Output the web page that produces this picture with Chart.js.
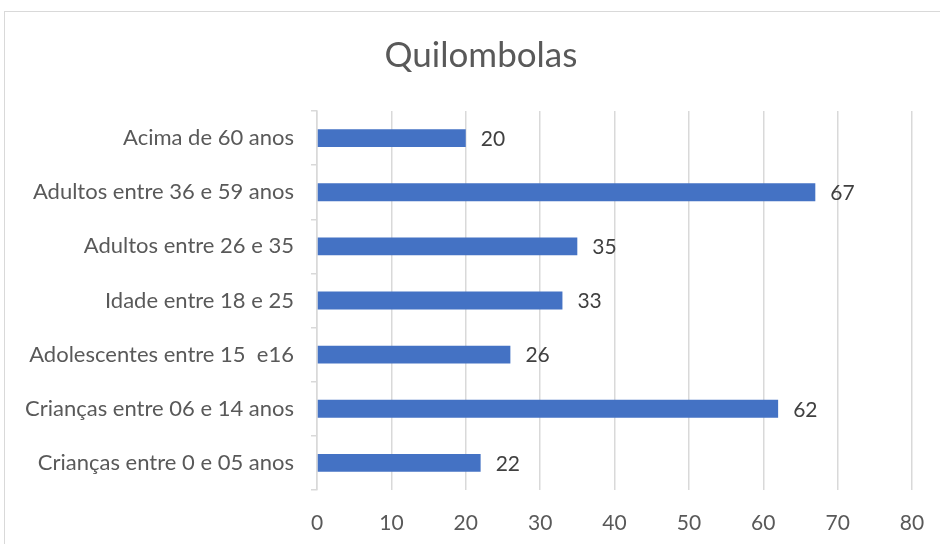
<!DOCTYPE html>
<html>
<head>
<meta charset="utf-8">
<script src="https://cdn.jsdelivr.net/npm/chart.js@4"></script>
<style>
  html, body { margin: 0; padding: 0; background: #ffffff; overflow: hidden; width: 940px; height: 544px; }
  #box { position: absolute; left: 4px; top: 11px; width: 952px; height: 560px; border: 1px solid #d9d9d9; box-sizing: border-box; }
  #quilombolasChart { position: absolute; left: 0; top: 0; }
</style>
</head>
<body>
<div id="box"><canvas id="quilombolasChart" width="952" height="560"></canvas></div>
<script>
const chartTitle = "Quilombolas";
const faixas = [
  "Acima de 60 anos",
  "Adultos entre 36 e 59 anos",
  "Adultos entre 26 e 35",
  "Idade entre 18 e 25",
  "Adolescentes entre 15  e16",
  "Crianças entre 06 e 14 anos",
  "Crianças entre 0 e 05 anos"
];
const quantidades = [20, 67, 35, 33, 26, 62, 22];
const xTicks = [0, 10, 20, 30, 40, 50, 60, 70, 80];

const fontFamily = "Lato, 'Open Sans', sans-serif";

// title centred on the whole chart box (the plot is shifted right)
const boxTitle = {
  id: "boxTitle",
  afterDraw(chart) {
    const c = chart.ctx;
    c.save();
    c.font = "35px " + fontFamily;
    c.fillStyle = "#595959";
    c.textAlign = "center";
    c.textBaseline = "middle";
    c.fillText(chartTitle, chart.width / 2, 44);
    c.restore();
  }
};

// draws the value next to the end of each bar
const valueLabels = {
  id: "valueLabels",
  afterDatasetsDraw(chart) {
    const c = chart.ctx;
    const meta = chart.getDatasetMeta(0);
    c.save();
    c.font = "21px " + fontFamily;
    c.fillStyle = "#404040";
    c.textBaseline = "middle";
    c.textAlign = "left";
    meta.data.forEach((bar, i) => {
      c.fillText(String(quantidades[i]), bar.x + 15, bar.y + 1);
    });
    c.restore();
  }
};

new Chart(document.getElementById("quilombolasChart"), {
  type: "bar",
  data: {
    labels: faixas,
    datasets: [{
      data: quantidades,
      backgroundColor: "#4472C4",
      borderWidth: 0,
      categoryPercentage: 1,
      barPercentage: 0.33
    }]
  },
  plugins: [valueLabels, boxTitle],
  options: {
    indexAxis: "y",
    responsive: false,
    devicePixelRatio: 1,
    animation: false,
    layout: { padding: { left: 0, right: 45, top: 99, bottom: 0 } },
    plugins: {
      legend: { display: false },
      tooltip: { enabled: false },
      title: { display: false }
    },
    scales: {
      x: {
        min: 0,
        max: 80,
        afterFit(scale) { scale.height = 82; },
        afterBuildTicks(scale) { scale.ticks = xTicks.map(v => ({ value: v })); },
        grid: { color: "#d9d9d9", lineWidth: 1.5, drawTicks: false },
        border: { display: false },
        ticks: {
          color: "#595959",
          padding: 21,
          font: { family: fontFamily, size: 21 }
        }
      },
      y: {
        afterFit(scale) { scale.width = 312; },
        grid: { color: "#d9d9d9", lineWidth: 1.5, drawOnChartArea: false, tickLength: 6, offset: true },
        border: { display: true, color: "#d9d9d9", width: 1.5 },
        ticks: {
          color: "#595959",
          padding: 17,
          font: { family: fontFamily, size: 22 }
        }
      }
    }
  }
});
</script>
</body>
</html>
